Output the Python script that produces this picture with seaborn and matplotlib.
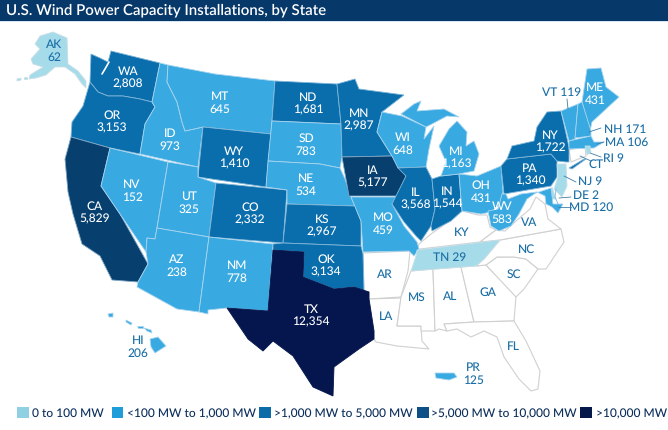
import numpy as np
import pandas as pd
import seaborn as sns
import matplotlib
matplotlib.use("Agg")
import matplotlib.pyplot as plt

TITLE = "U.S. Wind Power Capacity Installations, by State"
LEGEND_LABELS = ["0 to 100 MW", "<100 MW to 1,000 MW", ">1,000 MW to 5,000 MW",
                 ">5,000 MW to 10,000 MW", ">10,000 MW"]
TIER_COLORS = ["#a6dbe9", "#39a9e1", "#0a6dac", "#07406f", "#04164d"]
SWATCH_COLORS = ["#8fd0e3", "#1f9dd8", "#0b6ca8", "#0c5087", "#05184a"]
BIN_EDGES = [100, 1000, 5000, 10000]

STATE_NAMES = ["AK","HI","WA","OR","CA","NV","ID","MT","WY","UT","CO","AZ","NM","ND","SD","NE","KS","OK","TX",
               "MN","IA","MO","WI","IL","IN","MI","OH","PA","NY","ME","VT","NH","MA","RI","NJ","DE","MD","WV","TN","PR"]
STATE_MW = [62,206,2808,3153,5829,152,973,645,1410,325,2332,238,778,1681,783,534,2967,3134,12354,
            2987,5177,459,648,3568,1544,1163,431,1340,1722,431,119,171,106,9,9,2,120,583,29,125]
NO_DATA_STATES = ["AR","LA","MS","AL","GA","FL","SC","NC","KY","VA","CT"]
# The reference paints Michigan in the lighter class in spite of its figure
TIER_OVERRIDE = {"MI": 1}

# State outlines, in picture pixels
OUTLINES = {
 "AK":[[(40,37),(53,33),(67,39),(68,65),(78,72),(86,82),(86,89),(82,85),(75,75),(65,68),(55,68),(46,76),(36,79),(29,80),(30,76),(43,68),(33,65),(31,60),(40,50),(35,45)],
       [(17,80),(21,79),(21,81),(17,82)],[(24,78),(27,78),(27,80),(24,80)]],
 "HI":[[(150,340),(158,338),(166,347),(155,354),(151,348)],[(108,315),(113,314),(113,318),(109,318)],[(126,321),(132,324),(131,326),(126,323)],
       [(137,327),(143,327),(143,329),(138,329)],[(144,329),(151,331),(152,334),(147,332)]],
 "WA":[[(111,52),(160,64),(152,103),(140,100),(123,97),(108,97),(98,93),(90,83),(91,55),(100,59),(108,63)]],
 "OR":[[(90,83),(98,93),(108,97),(123,97),(140,100),(152,103),(155,108),(145,125),(140,155),(110,149),(71,138),(72,123),(83,107)]],
 "CA":[[(71,138),(110,149),(101,187),(120,215),(148,265),(138,283),(112,281),(100,257),(82,245),(73,215),(68,193),(65,160)]],
 "NV":[[(110,149),(168,163),(157,229),(155,240),(147,239),(146,253),(120,215),(101,187)]],
 "ID":[[(160,64),(168,66),(167,83),(177,103),(182,123),(185,132),(203,128),(198,168),(140,155),(145,125),(155,108),(152,103)]],
 "MT":[[(168,66),(215,75),(275,82),(271,135),(203,128),(185,132),(182,123),(177,103),(167,83)]],
 "WY":[[(203,128),(271,135),(266,188),(198,178)]],
 "UT":[[(168,163),(198,168),(198,178),(216,184),(209,238),(157,229)]],
 "CO":[[(216,184),(287,191),(283,244),(209,238)]],
 "AZ":[[(157,229),(209,238),(199,313),(177,310),(137,288),(138,283),(148,265),(146,253),(147,239),(155,240)]],
 "NM":[[(209,238),(273,245),(268,312),(227,309),(208,311),(208,315),(199,313)]],
 "ND":[[(275,82),(337,85),(341,125),(272,122)]],
 "SD":[[(272,122),(341,125),(342,158),(340,169),(330,167),(320,165),(268,162)]],
 "NE":[[(268,162),(320,165),(340,169),(345,180),(351,198),(355,207),(287,205),(287,191),(266,188)]],
 "KS":[[(287,205),(355,207),(361,222),(361,247),(283,244)]],
 "OK":[[(273,245),(283,244),(361,247),(363,255),(364,292),(354,288),(334,290),(303,278),(304,253),(273,251)]],
 "TX":[[(273,251),(304,253),(303,278),(334,290),(354,288),(369,293),(369,300),(374,332),(374,340),(359,350),(334,368),(333,397),(313,388),(293,357),(273,342),(263,352),(248,340),(227,309),(268,312)]],
 "MN":[[(337,85),(355,80),(359,90),(404,96),(382,113),(377,133),(392,157),(342,158),(341,125)]],
 "IA":[[(342,158),(392,157),(406,177),(397,197),(349,197)]],
 "MO":[[(351,198),(397,198),(392,205),(404,227),(417,243),(419,250),(414,257),(409,252),(363,253),(361,222)]],
 "WI":[[(382,113),(402,117),(426,128),(424,140),(434,127),(429,150),(426,168),(398,169),(392,157),(377,133)]],
 "IL":[[(398,169),(426,168),(432,180),(435,210),(431,227),(421,242),(416,237),(404,223),(392,205),(406,177)]],
 "IN":[[(432,180),(441,177),(459,175),(462,212),(451,222),(432,232),(431,227),(435,210)]],
 "MI":[[(401,115),(414,105),(421,102),(417,112),(444,110),(459,118),(447,117),(432,125),(426,128)],
       [(457,122),(467,133),(466,147),(474,142),(479,155),(474,172),(459,175),(441,177),(446,163),(439,147),(449,130)]],
 "OH":[[(459,175),(477,177),(501,167),(503,193),(500,205),(491,213),(481,215),(462,212)]],
 "PA":[[(501,167),(507,160),(551,155),(557,162),(557,178),(551,187),(504,195)]],
 "NY":[[(507,160),(512,147),(534,142),(537,128),(547,113),(561,112),(569,148),(569,163),(566,163),(557,162),(551,155)],
       [(569,169),(584,160),(586,160),(572,170)]],
 "ME":[[(582,103),(587,70),(601,69),(606,88),(619,98),(592,123),(590,132)]],
 "VT":[[(561,112),(578,105),(575,140),(569,142)]],
 "NH":[[(578,105),(582,103),(591,132),(591,137),(575,139)]],
 "MA":[[(569,142),(591,137),(594,143),(604,143),(594,149),(569,150)]],
 "RI":[[(585,147),(590,147),(591,153),(587,156)]],
 "NJ":[[(557,165),(566,165),(567,187),(562,198),(554,190),(558,178)]],
 "DE":[[(552,188),(556,200),(550,200)]],
 "MD":[[(527,197),(551,189),(553,205),(563,205),(558,214),(552,208),(546,205),(545,197),(537,193)]],
 "WV":[[(488,212),(498,210),(502,195),(506,195),(508,200),(521,195),(537,193),(527,200),(519,215),(511,227),(499,232),(491,227)]],
 "TN":[[(417,251),(500,241),(484,260),(476,267),(411,272),(416,257)]],
 "PR":[[(435,374),(454,374),(457,378),(449,381),(436,379)]],
 "AR":[[(363,254),(410,252),(408,272),(401,298),(369,300),(369,293),(364,292)]],
 "LA":[[(369,300),(401,299),(397,327),(421,327),(422,342),(429,350),(397,347),(376,343),(374,340),(374,332)]],
 "MS":[[(411,272),(433,270),(435,332),(421,332),(421,327),(397,327),(401,298)]],
 "AL":[[(433,270),(461,268),(474,323),(444,325),(447,332),(439,330),(435,332)]],
 "GA":[[(461,268),(486,266),(516,297),(514,322),(474,323)]],
 "FL":[[(444,325),(474,323),(514,322),(526,342),(540,372),(538,390),(531,392),(519,380),(504,358),(497,338),(484,332),(471,338),(457,330),(447,332)]],
 "SC":[[(486,266),(497,258),(514,258),(526,260),(538,270),(524,290),(516,298)]],
 "NC":[[(500,241),(561,230),(564,243),(546,270),(538,270),(526,260),(514,258),(497,258),(486,266),(476,267),(484,260)]],
 "KY":[[(417,251),(419,245),(431,235),(441,228),(462,212),(478,216),(487,216),(490,228),(496,231),(480,243),(420,250)]],
 "VA":[[(480,243),(496,231),(505,232),(516,222),(530,210),(536,198),(545,205),(548,220),(561,230),(500,241)]],
 "CT":[[(569,151),(585,147),(586,157),(571,163)]],
}

# Label anchors in picture pixels
INSIDE = {"AK":(54,51),"HI":(138,347),"WA":(128,78),"OR":(112,122),"CA":(95,213),"NV":(132,191),"ID":(170,140),
          "MT":(220,103),"WY":(234,158),"UT":(189,203),"CO":(250,214),"AZ":(177,266),"NM":(237,272),"ND":(308,104),
          "SD":(306,145),"NE":(306,185),"KS":(322,226),"OK":(326,266),"TX":(311,316),"MN":(359,120),"IA":(373,177),
          "MO":(383,224),"WI":(403,144),"IL":(416,199),"IN":(447,198),"MI":(456,158),"OH":(481,192),"PA":(530,175),
          "NY":(550,142),"ME":(595,94),"WV":(502,213),"PR":(473,374)}
SINGLE = {"VA":(529,223),"KY":(462,233),"TN":(450,258),"NC":(527,250),"AR":(385,275),"SC":(514,275),"MS":(417,298),
          "AL":(450,297),"GA":(488,293),"LA":(386,317),"FL":(513,347)}
CALLOUT = {"VT":((562,93),(567,100),(568,110)),"NH":((625,130),(601,129),(589,133)),"MA":((627,143),(604,143),(597,145)),
           "RI":((613,159),(601,158),(590,154)),"CT":((596,165),(591,162),(580,157)),"NJ":((590,182),(576,183),(564,177)),
           "DE":((586,196),(571,198),(559,199)),"MD":((591,208),(571,208),(558,208))}

sns.set_theme(style="white")
plt.rcParams["font.family"] = ["Lato", "DejaVu Sans"]
plt.rcParams["text.hinting"] = "no_hinting"
plt.rcParams["text.hinting_factor"] = 1

mw = pd.Series(STATE_MW, index=STATE_NAMES)
tier = pd.Series(np.digitize(STATE_MW, BIN_EDGES), index=STATE_NAMES)
for st, t in TIER_OVERRIDE.items():
    tier[st] = t
INK = "#1a6ea6"
LABEL_SIZE = 8.4

fig = plt.figure(figsize=(6.68, 4.31), dpi=100, facecolor="white")
ax = fig.add_axes([0, 0, 1, 1])
ax.set_xlim(0, 668)
ax.set_ylim(431, 0)
ax.axis("off")

# Header
ax.axhspan(0, 22, color="#07386a", lw=0, zorder=1)
ax.axhspan(22, 23, color="#d5e6f2", lw=0, zorder=1)
ax.text(6, 10, TITLE, color="white", fontsize=10.8, fontweight="semibold", ha="left", va="center", zorder=5)

# Map
for st in NO_DATA_STATES:
    for poly in OUTLINES[st]:
        ax.fill(*zip(*poly), facecolor="white", edgecolor="#d0d0d0", lw=0.8, zorder=2)
for st in STATE_NAMES:
    col = TIER_COLORS[tier[st]]
    edge = {0: "#c9dfe8", 1: "#a9d5ef", 2: "#7fb6d9", 3: "#7fa6c4", 4: col}[tier[st]]
    for poly in OUTLINES[st]:
        ax.fill(*zip(*poly), facecolor=col, edgecolor=edge, lw=0.6, zorder=3)

# Puget Sound and the Bay
ax.plot([109, 105, 102], [63, 70, 75], color="white", lw=1.2, zorder=4)
ax.plot([558, 555, 556], [205, 198, 190], color="#7fb8d8", lw=0.6, zorder=4)

# Labels
for st, (x, y) in INSIDE.items():
    col = "white" if tier[st] >= 1 and st not in ("HI", "PR") else INK
    ax.text(x, y, f"{st}\n{mw[st]:,}", color=col, fontsize=LABEL_SIZE, fontweight="medium", ha="center", va="center",
            linespacing=1.2, zorder=6)
for st, (x, y) in SINGLE.items():
    txt = f"{st} {mw[st]:,}" if st in mw.index else st
    ax.text(x, y, txt, color=INK, fontsize=LABEL_SIZE, fontweight="medium", ha="center", va="center", zorder=6)
for st, (t, a, b) in CALLOUT.items():
    txt = f"{st} {mw[st]:,}" if st in mw.index else st
    ax.text(*t, txt, color=INK, fontsize=LABEL_SIZE, fontweight="medium", ha="center", va="center", zorder=6)
    ax.plot([a[0], b[0]], [a[1], b[1]], color="#3f7ea8", lw=0.6, zorder=6)

# Legend
legend_df = pd.DataFrame({"x": [23, 117.5, 265, 423, 586], "y": [413.5] * 5, "label": LEGEND_LABELS})
sns.scatterplot(data=legend_df, x="x", y="y", hue="label", palette=SWATCH_COLORS, marker="s", s=72,
                linewidth=0, legend=False, ax=ax, zorder=6)
ax.set_xlim(0, 668)
ax.set_ylim(431, 0)
for lab, tx in zip(LEGEND_LABELS, [32, 127, 274, 431, 596]):
    ax.text(tx, 414, lab, color="#0c2f5c", fontsize=8.4, fontweight="medium", ha="left", va="center", zorder=6)

fig.savefig("out.png", dpi=100, facecolor="white")
